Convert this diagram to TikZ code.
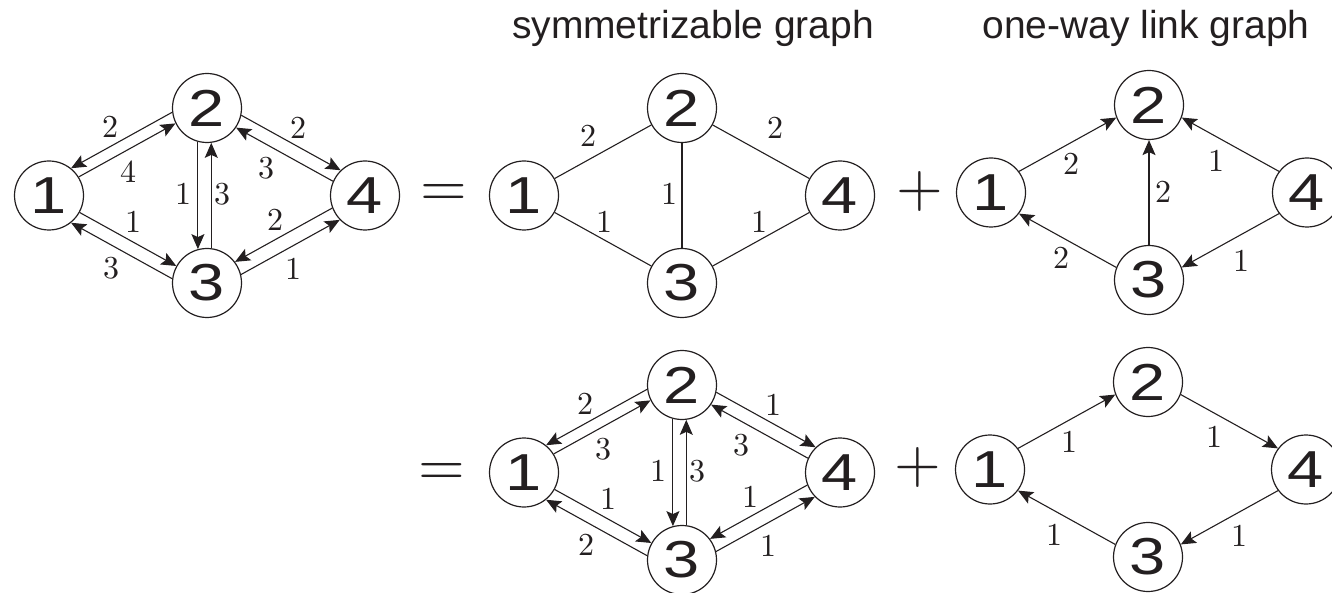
\documentclass[tikz,border=0pt]{standalone}
\usepackage{fontspec}
\setsansfont{Liberation Sans}
\newfontfamily\numfont[FakeStretch=1.25]{Liberation Sans}
\newfontfamily\wtfont{lmroman10-regular.otf}
\usepackage{tikz}
\usetikzlibrary{arrows.meta,positioning,calc}

\definecolor{ink}{HTML}{231F20}

\tikzset{
  vtx/.style={circle,draw=ink,line width=1.2pt,minimum size=69pt,inner sep=0pt,
    text=ink,font=\numfont\fontsize{52}{52}\selectfont},
  lnk/.style={draw=ink,line width=1.1pt},
  arr/.style={lnk,-{Stealth[length=15pt,width=13pt,inset=3pt]}},
  wt/.style={text=ink,inner sep=0pt,font=\wtfont\fontsize{32}{32}\selectfont},
  op/.style={text=ink,inner sep=0pt,anchor=base,font=\wtfont\fontsize{60}{60}\selectfont},
  ttl/.style={text=ink,inner sep=0pt,anchor=base,font=\sffamily\fontsize{39}{39}\selectfont}
}

\begin{document}
\begin{tikzpicture}[x=1pt,y=-1pt]
\useasboundingbox (0,0) rectangle (1332,593);

% titles
\node[ttl] (tsym) at (693,39) {symmetrizable graph};
\node[ttl] (tone) at (1146,39) {one-way link graph};

% the five graphs share one layout
\foreach \g/\dx/\dy in {a/0/0, b/475/0, c/942/-3, d/475/277, e/941/274}{
  \begin{scope}[shift={(\dx,\dy)}]
    \node[vtx] (\g-1) at (49,195.5) {1};
    \node[vtx] (\g-2) at (207,108) {2};
    \node[vtx] (\g-3) at (207,283) {3};
    \node[vtx] (\g-4) at (365,195.5) {4};
  \end{scope}
}

% = and +
\node[op] (eqa) at (444,207) {=};
\node[op] (eqd) at (442,485) {=};
\node[op] (plc) at (920,207) {+};
\node[op] (ple) at (918,482) {+};

% two-way links (graphs a and d)
\foreach \g in {a,d}{
  \draw[arr] (\g-2.187) -- (\g-1.51);
  \draw[arr] (\g-1.32) -- (\g-2.206);
  \draw[arr] (\g-2.348) -- (\g-4.134);
  \draw[arr] (\g-4.156) -- (\g-2.326);
  \draw[arr] (\g-2.255) -- (\g-3.105);
  \draw[arr] (\g-3.83) -- (\g-2.277);
  \draw[arr] (\g-1.331) -- (\g-3.151);
  \draw[arr] (\g-3.173) -- (\g-1.309);
  \draw[arr] (\g-4.201) -- (\g-3.37);
  \draw[arr] (\g-3.14) -- (\g-4.224);
}

% symmetrizable part
\draw[lnk] (b-1) -- (b-2);
\draw[lnk] (b-1) -- (b-3);
\draw[lnk] (b-2) -- (b-3);
\draw[lnk] (b-2) -- (b-4);
\draw[lnk] (b-3) -- (b-4);

% one-way parts
\draw[arr] (c-1.37) -- (c-2.201);
\draw[arr] (c-3) -- (c-2);
\draw[arr] (c-4.143) -- (c-2.339);
\draw[arr] (c-3.159) -- (c-1.323);
\draw[arr] (c-4.217) -- (c-3.21);

\draw[arr] (e-1.37) -- (e-2.201);
\draw[arr] (e-2.339) -- (e-4.143);
\draw[arr] (e-4.217) -- (e-3.21);
\draw[arr] (e-3.159) -- (e-1.323);

% weights
\begin{scope}
  \node[wt] (wa1) at (110,127) {2};
  \node[wt] (wa2) at (128,172) {4};
  \node[wt] (wa3) at (298,128) {2};
  \node[wt] (wa4) at (266,168) {3};
  \node[wt] (wa5) at (183,194) {1};
  \node[wt] (wa6) at (222,194) {3};
  \node[wt] (wa7) at (133,222) {1};
  \node[wt] (wa8) at (111,268) {3};
  \node[wt] (wa9) at (275,220) {2};
  \node[wt] (wa10) at (293,269) {1};
\end{scope}
\begin{scope}[shift={(475,0)}]
  \node[wt] (wb1) at (113,136) {2};
  \node[wt] (wb2) at (129,222) {1};
  \node[wt] (wb3) at (194,194) {1};
  \node[wt] (wb4) at (300,128) {2};
  \node[wt] (wb5) at (284,222) {1};
\end{scope}
\begin{scope}[shift={(942,-3)}]
  \node[wt] (wc1) at (129,167) {2};
  \node[wt] (wc2) at (221,195) {2};
  \node[wt] (wc3) at (274,164) {1};
  \node[wt] (wc4) at (119,261) {2};
  \node[wt] (wc5) at (299,264) {1};
\end{scope}
\begin{scope}[shift={(475,277)}]
  \node[wt] (wd1) at (110,127) {2};
  \node[wt] (wd2) at (128,172) {3};
  \node[wt] (wd3) at (298,128) {1};
  \node[wt] (wd4) at (266,168) {3};
  \node[wt] (wd5) at (183,194) {1};
  \node[wt] (wd6) at (222,194) {3};
  \node[wt] (wd7) at (133,222) {1};
  \node[wt] (wd8) at (111,268) {2};
  \node[wt] (wd9) at (275,220) {1};
  \node[wt] (wd10) at (293,269) {1};
\end{scope}
\begin{scope}[shift={(941,274)}]
  \node[wt] (we1) at (128,168) {1};
  \node[wt] (we2) at (273,163) {1};
  \node[wt] (we3) at (298,262) {1};
  \node[wt] (we4) at (113,261) {1};
\end{scope}
\end{tikzpicture}
\end{document}
